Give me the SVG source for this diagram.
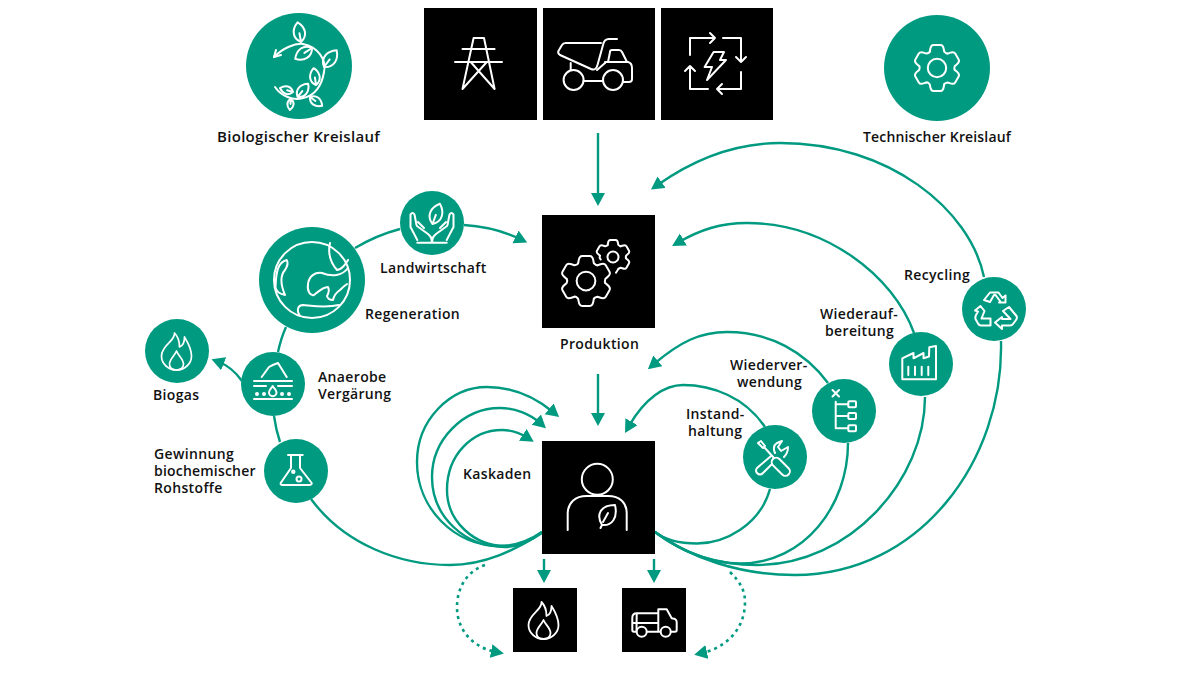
<svg xmlns="http://www.w3.org/2000/svg" width="1200" height="675" viewBox="0 0 1200 675">
<style>
text{font-family:"Open Sans","Liberation Sans",sans-serif;font-weight:600;font-size:14px;fill:#111;letter-spacing:.35px}
.g{fill:#009a80}
.k{fill:#000}
.ic,.ic *{fill:none;stroke:#fff;stroke-width:2;stroke-linecap:round;stroke-linejoin:round}
.n{vector-effect:non-scaling-stroke}
.c{fill:none;stroke:#009a80;stroke-width:2.4}
.d{stroke-dasharray:3 4;stroke-width:2.6}
</style>
<defs>
<marker id="a" markerUnits="userSpaceOnUse" markerWidth="14" markerHeight="15" refX="5" refY="7" orient="auto"><path d="M0 0L13 7L0 14Z" fill="#009a80"/></marker>
<path id="leaf" class="n" d="M0 0C-8 -5 -7 -14 0 -20C7 -14 8 -5 0 0ZM0 0V-9"/>
<path id="seg" class="n" d="M-6.3 -14.2C-5.6 -17 -6 -20 -3 -20H3C6 -20 5.6 -17 6.3 -14.2Q8 -12.4 9.1 -12.5"/>
<g id="gear"><use href="#seg"/><use href="#seg" transform="rotate(60)"/><use href="#seg" transform="rotate(120)"/><use href="#seg" transform="rotate(180)"/><use href="#seg" transform="rotate(240)"/><use href="#seg" transform="rotate(300)"/></g>
<g id="flame"><path d="M-2 -18C-1 -10 -15 -6 -15 5C-15 13 -8 19 0 19C8 19 15 13 15 5C15 -3 11 -9 8 -14C8 -9 6 -5 3 -4C3 -9 1 -15 -2 -18Z"/><path d="M0 0C-2 5 -7 8 -7 13C-7 17 -4 19 0 19C4 19 7 17 7 13C7 8 2 5 0 0Z"/></g>
<path id="hand" d="M417.300 240L410.500 227V214.500Q412.500 211.500 414.500 214.500L416.500 225M424 228L418 222M417 226L428 234Q431.700 237 431.700 240V242.700M417.300 242.700H431.700"/>
</defs>

<g id="connectors">
<path class="c" marker-end="url(#a)" d="M598 133V198"/>
<path class="c" marker-end="url(#a)" d="M598 374V418"/>
<path class="c" marker-end="url(#a)" d="M544 559V575"/>
<path class="c" marker-end="url(#a)" d="M654 559V575"/>
<path class="c" marker-end="url(#a)" d="M464 225Q495 227 520 239"/>
<path class="c" d="M355 248Q377 235 400 229"/>
<path class="c" d="M286 327Q281 338 278 352"/>
<path class="c" d="M274 416Q276 430 280 442"/>
<path class="c" marker-end="url(#a)" d="M242 381Q232 367 219 362"/>
<path class="c" d="M311 499C345 545 400 565 450 565C485 565 515 550 542 533"/>
<path class="c" marker-end="url(#a)" d="M542 532C530 540 515 546 500 546C454 546 417 508 417 462C417 420 450 387 487 387C512 387 535 397 553 412"/>
<path class="c" marker-end="url(#a)" d="M542 532C532 540 520 547 505 547C465 547 432 517 432 477C432 440 463 408 500 408C515 408 530 414 540 423"/>
<path class="c" marker-end="url(#a)" d="M542 532C532 540 520 546 505 546C475 546 447 522 447 490C447 455 472 430 502 430C512 430 520 433 527 437.500"/>
<path class="c" marker-end="url(#a)" d="M984 277C970 210 890 143 780 143C740 143 700 155 657.500 185"/>
<path class="c" marker-end="url(#a)" d="M914 333C893 275 825 223 747 223C720 223 700 230 679 242"/>
<path class="c" marker-end="url(#a)" d="M828 383C805 352 770 332 727 332C700 332 680 342 654 364"/>
<path class="c" marker-end="url(#a)" d="M765 427C745 397 712 385 683 385C665 385 645 398 629 426"/>
<path class="c" d="M770 489C760 525 725 543.500 697 543.500C680 543.500 665 540 655 532"/>
<path class="c" d="M848 443C848 505 805 563.500 740 563.500C710 563.500 680 550 655 532"/>
<path class="c" d="M925 397C925 480 850 565 757 565C720 565 685 555 655 532"/>
<path class="c" d="M1001 341C1004 460 920 575 795 575C740 575 690 558 655 532"/>
<path class="c d" marker-end="url(#a)" d="M485 565C465 572 457 590 457 607C457 632 475 648 496 652"/>
<path class="c d" marker-end="url(#a)" d="M730 572C740 582 745 590 745 602C745 630 725 648 702 653"/>
</g>

<g id="bio">
<circle class="g" cx="299" cy="66" r="53"/>
<g class="ic" style="stroke-width:1.6">
<path d="M274 57C283 48 295 43 303 44C318 47 327 60 324 72C322 85 315 96 303 98C293 101 281 96 275 87"/><path d="M274 57L281 55M274 57L276 50"/>
<use href="#leaf" transform="translate(301 42)rotate(-10)"/>
<use href="#leaf" transform="translate(312 48)rotate(-123)"/>
<use href="#leaf" transform="translate(324 67)rotate(37)scale(1.05)"/>
<use href="#leaf" transform="translate(316 85)rotate(-8)scale(.85)"/>
<use href="#leaf" transform="translate(297.500 97)rotate(39)scale(.85)"/>
<use href="#leaf" transform="translate(293 92)rotate(-73)scale(.68)"/>
<use href="#leaf" transform="translate(310 97)rotate(126)scale(.75)"/>
<use href="#leaf" transform="translate(291 99)rotate(186)scale(.55)"/>
</g>
<text x="217" y="142" style="font-size:15px;letter-spacing:.3px">Biologischer Kreislauf</text>
</g>

<g id="tech">
<circle class="g" cx="937" cy="68" r="53"/>
<g class="ic" transform="translate(937 68)scale(1.15)"><use href="#gear"/><circle class="n" r="8"/></g>
<text x="863" y="142" style="letter-spacing:.15px">Technischer Kreislauf</text>
</g>

<g id="pylon">
<rect class="k" x="424" y="8" width="113" height="112"/>
<path class="ic" d="M473.600 38H484L494.600 89L470.700 62H486.800L462.500 89ZM462.500 49H494.600M455 62H502"/>
</g>
<g id="dumper">
<rect class="k" x="543" y="8" width="112" height="112"/>
<g class="ic"><path d="M617 39H609Q604 39 603 45L597.500 65Q596 71 591 69L560 55Q557 53 559 50L562 45Q563 43 566 43H601"/><path d="M608 62L610 52Q610 50 612 50H619Q621 50 622 52L627 62Z"/><path d="M605 63V62H628Q632 63 632 68V79Q632 82 629 82H623"/><circle cx="573.600" cy="80" r="10"/><circle cx="613" cy="80" r="10"/><path d="M583.500 81H603M570.700 63V70M597 70L605 63"/></g>
</g>
<g id="energy">
<rect class="k" x="661" y="8" width="112" height="112"/>
<g class="ic"><path d="M690 55V38H715M710 33L715 38L710 43M723 38H741V62M736 57L741 62L746 57M741 72V89H717M722 84L717 89L722 94M708 89H690V66M685 71L690 66L695 71"/><path d="M713.600 52H724L720 60H726L707 80L712 67H704.600Z"/></g>
</g>

<g id="produktion">
<rect class="k" x="542" y="215" width="113" height="113"/>
<g class="ic" transform="translate(586 281)scale(1.25)"><use href="#gear"/><circle class="n" r="7.500"/></g>
<g class="ic" transform="translate(613 257)scale(.85)"><use href="#seg"/><use href="#seg" transform="rotate(60)"/><use href="#seg" transform="rotate(120)"/><use href="#seg" transform="rotate(300)"/><path class="n" d="M6.300 14.200L3.500 18.500"/><path class="n" d="M-15.400 -1.600Q-16.500 1 -14.500 3"/><circle class="n" r="6.500"/></g>
<text x="560" y="349">Produktion</text>
</g>

<g id="landwirtschaft">
<circle class="g" cx="432" cy="223" r="32"/>
<g class="ic" style="stroke-width:1.6">
<use href="#leaf" transform="translate(432.500 224)rotate(20)scale(1.08)"/>
<use href="#hand"/><use href="#hand" transform="translate(864 0)scale(-1 1)"/>
</g>
<text x="380" y="273">Landwirtschaft</text>
</g>

<g id="regeneration">
<circle class="g" cx="312" cy="280" r="53"/>
<g class="ic" style="stroke-width:1.8"><circle cx="312" cy="280" r="38"/>
<path d="M286.700 260C278 262 276 272 275.500 287Q276 293 285 295C282 288 279 277 285 270Q289 264 286.700 260Z"/>
<path d="M330 243C328 252 330 262 337 270C341 270 346 264 348 260"/>
<path d="M348 268C342 276 332 277 322 273C315 272 309 276 308 284C307 291 310 296 314 295C319 291 323 287 328 287Q330 291 327 296Q328 300 333 300C334 295 337 292 340 290Q344 286 347 284"/>
<path d="M300 316C296 310 298 305 303 305C314 306 326 308 339 305"/>
</g>
<text x="365" y="319">Regeneration</text>
</g>

<g id="biogas">
<circle class="g" cx="177" cy="351" r="32"/>
<use class="ic" href="#flame" transform="translate(176.500 351)" style="stroke-width:1.7"/>
<text x="153" y="400">Biogas</text>
</g>

<g id="anaerobe">
<circle class="g" cx="273" cy="384" r="32"/>
<g class="ic" style="stroke-width:1.6"><path d="M261.700 377L269 367Q272 365 278 363L286.700 377M254 381H292M254 386H266M278 386H292M254 399H292"/><path d="M272.700 386C271 389 269 390 269 392.500A3.700 3.700 0 0 0 276.500 392.500C276.500 390 274.500 389 272.700 386Z"/><circle cx="257" cy="394" r="1"/><circle cx="264" cy="394" r="1"/><circle cx="282" cy="394" r="1"/><circle cx="289" cy="394" r="1"/></g>
<text x="318" y="382">Anaerobe</text>
<text x="318" y="399">Vergärung</text>
</g>

<g id="gewinnung">
<circle class="g" cx="296" cy="471" r="32"/>
<g class="ic" style="stroke-width:1.7"><path d="M288 455H302.700M291 456V468L280.700 483Q280 485 283 485H309Q312 485 311.700 483L300 468V456"/><circle cx="293.300" cy="471.700" r="1.200"/><circle cx="299" cy="479" r="2.500"/></g>
<text x="154" y="459">Gewinnung</text>
<text x="154" y="476" style="letter-spacing:.2px">biochemischer</text>
<text x="154" y="493">Rohstoffe</text>
</g>

<g id="nutzer">
<rect class="k" x="542" y="441" width="113" height="113"/>
<g class="ic" style="stroke-width:2.4"><circle cx="597.300" cy="479.300" r="15.500"/><path d="M567.700 530V513C568 503 575 496 586.700 496H608C620 496 626.700 503 626.700 513V530"/>
<path d="M602 525C596 515 600 505 615 505C618 518 612 526 602 525ZM603 522L608 513M602 525L600.500 528" style="stroke-width:2"/></g>
<text x="463" y="479">Kaskaden</text>
</g>

<g id="flamme">
<rect class="k" x="513" y="588" width="64" height="64"/>
<use class="ic" href="#flame" transform="translate(543.500 620)" style="stroke-width:1.8"/>
</g>
<g id="pickup">
<rect class="k" x="622" y="588" width="64" height="64"/>
<g class="ic" style="stroke-width:1.8"><path d="M636.700 613.300H658.300V631.700H671M660 631.700H647M636.500 631.700H634Q632.300 631.700 632.300 630V618Q632.300 613.300 636.700 613.300ZM632.300 623H658.300M658.300 613.300V609.300H666.700L671.700 618.300L675 619Q676.700 620 676.700 622V630Q676.700 631.700 675 631.700H671"/><circle cx="641.700" cy="631.700" r="5" style="fill:#000"/><circle cx="665.700" cy="631.700" r="5" style="fill:#000"/></g>
</g>

<g id="instandhaltung">
<circle class="g" cx="775" cy="457" r="32"/>
<g class="ic" style="stroke-width:1.7"><path d="M758 443L761 441L765 446L763 448ZM764 447L774 458"/><rect x="-4.500" y="0" width="9" height="22" rx="4.500" transform="translate(773 459)rotate(-45)"/>
<path d="M771 456L757 468Q755 471 757 473Q760 476 763 473L772 464M775 453Q772 446 777 443L782 441L778 447L781 451L788 447Q788 453 784 457"/></g>
<text x="686" y="419">Instand-</text>
<text x="688" y="436">haltung</text>
</g>

<g id="wiederverwendung">
<circle class="g" cx="844" cy="411" r="32"/>
<g class="ic" style="stroke-width:1.7"><path d="M832.500 390L839 396.500M839 390L832.500 396.500M835.700 401.700V428.300H848.300M835.700 404.300H848.300M835.700 416H848.300"/><rect x="848.300" y="401.300" width="7.700" height="6" rx="1"/><rect x="848.300" y="413" width="7.700" height="6" rx="1"/><rect x="848.300" y="425.300" width="7.700" height="6" rx="1"/></g>
<text x="730" y="370">Wiederver-</text>
<text x="737" y="387">wendung</text>
</g>

<g id="wiederaufbereitung">
<circle class="g" cx="921" cy="364" r="32"/>
<g class="ic" style="stroke-width:1.7"><path d="M902.300 379.300V358.300L913.500 353V358.300L923.500 353V358.300L929 356.500L929.300 347.300L936 346V379.300ZM908.300 366.700V375M915 366.700V375M921.700 366.700V375M928.300 366.700V375"/></g>
<text x="820" y="319">Wiederauf-</text>
<text x="825" y="336">bereitung</text>
</g>

<g id="recycling">
<circle class="g" cx="994" cy="309" r="32"/>
<g class="ic" style="stroke-width:1.6"><path d="M984 300L990 292.500H998.500L1002.500 298L1005.500 295.500V302.500H999L1000 301L995.500 295H994L990 302Z"/>
<path d="M980.500 306L984.500 311L981.500 318.500H990.500V325.500H981Q979 325.500 978 323.500L975.500 319Q975 317 976 315L978 311.500L975 310.500Z"/>
<path d="M1009 307L1016.500 316Q1017.500 318 1016 320L1013 324Q1012 325.500 1010 325.500H1002V329L995 322.500L1002 317V319H1010.500L1003 311Z"/></g>
<text x="904" y="280">Recycling</text>
</g>
</svg>
